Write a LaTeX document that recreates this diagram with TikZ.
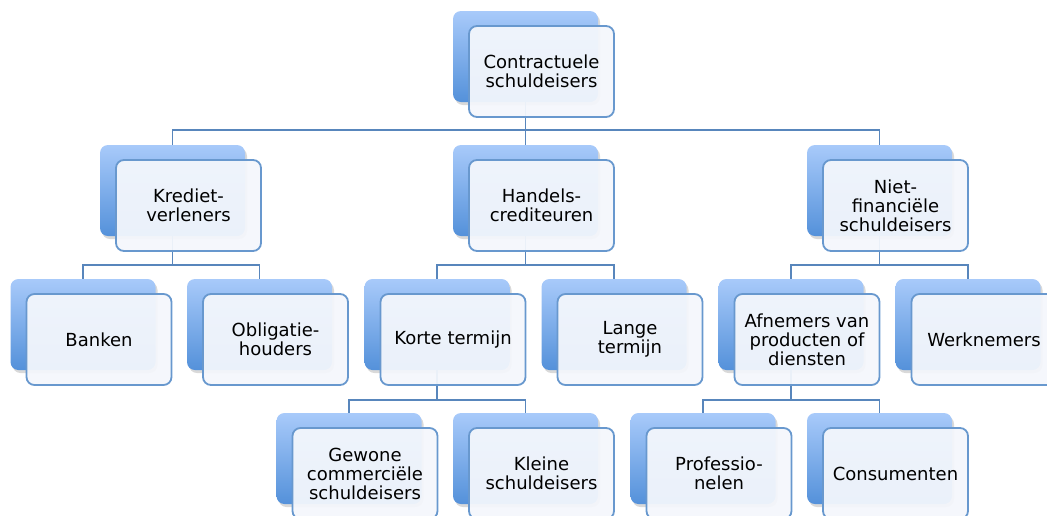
\documentclass[tikz,border=0pt]{standalone}
\usepackage{fontspec}
\setmainfont{DejaVu Sans}
\usetikzlibrary{shadows}

\definecolor{backtop}{RGB}{168,202,250}
\definecolor{backbot}{RGB}{84,145,218}
\definecolor{frontfill}{RGB}{244,247,252}
\definecolor{frontline}{RGB}{104,152,206}
\definecolor{linkline}{RGB}{88,134,188}

\tikzset{
  backbox/.style={rectangle, rounded corners=8pt, minimum width=145pt, minimum height=91pt,
    inner sep=0pt, top color=backtop, bottom color=backbot,
    drop shadow={shadow xshift=2pt, shadow yshift=-3pt, opacity=0.3}},
  frontbox/.style={rectangle, rounded corners=8pt, minimum width=145pt, minimum height=91pt,
    inner sep=0pt, draw=frontline, line width=1.8pt, fill=frontfill, fill opacity=0.94,
    text opacity=1, align=center, font=\fontsize{18}{19}\selectfont},
  link/.style={draw=linkline, line width=1.8pt}
}

\begin{document}
\begin{tikzpicture}[x=1pt,y=-1pt]
\useasboundingbox (0,0) rectangle (1047,515);

% achterste vlakken
\node[backbox] (contrb) at (525.5,56.5) {};
\node[backbox] (kredb) at (172.5,190.5) {};
\node[backbox] (handb) at (525.5,190.5) {};
\node[backbox] (nietb) at (879.5,190.5) {};
\node[backbox] (bankb) at (83,324.5) {};
\node[backbox] (obligb) at (259.5,324.5) {};
\node[backbox] (korteb) at (437,324.5) {};
\node[backbox] (langeb) at (614,324.5) {};
\node[backbox] (afnb) at (791,324.5) {};
\node[backbox] (werkb) at (968,324.5) {};
\node[backbox] (gewb) at (349,458.5) {};
\node[backbox] (kleinb) at (525.5,458.5) {};
\node[backbox] (profb) at (703,458.5) {};
\node[backbox] (consb) at (879.5,458.5) {};

% verbindingen
\draw[link] (contrb.south) -- ++(0,28) -| (kredb.north);
\draw[link] (contrb.south) -- ++(0,28) -| (handb.north);
\draw[link] (contrb.south) -- ++(0,28) -| (nietb.north);
\draw[link] (kredb.south) -- ++(0,29) -| (bankb.north);
\draw[link] (kredb.south) -- ++(0,29) -| (obligb.north);
\draw[link] (handb.south) -- ++(0,29) -| (korteb.north);
\draw[link] (handb.south) -- ++(0,29) -| (langeb.north);
\draw[link] (nietb.south) -- ++(0,29) -| (afnb.north);
\draw[link] (nietb.south) -- ++(0,29) -| (werkb.north);
\draw[link] (korteb.south) -- ++(0,30) -| (gewb.north);
\draw[link] (korteb.south) -- ++(0,30) -| (kleinb.north);
\draw[link] (afnb.south) -- ++(0,30) -| (profb.north);
\draw[link] (afnb.south) -- ++(0,30) -| (consb.north);

% voorste vlakken
\node[frontbox] (contr) at ([shift={(16,15)}]contrb.center) {Contractuele\\schuldeisers};
\node[frontbox] (kred) at ([shift={(16,15)}]kredb.center) {Krediet-\\verleners};
\node[frontbox] (hand) at ([shift={(16,15)}]handb.center) {Handels-\\crediteuren};
\node[frontbox] (niet) at ([shift={(16,15)}]nietb.center) {Niet-\\financiële\\schuldeisers};
\node[frontbox] (bank) at ([shift={(16,15)}]bankb.center) {Banken};
\node[frontbox] (oblig) at ([shift={(16,15)}]obligb.center) {Obligatie-\\houders};
\node[frontbox] (korte) at ([shift={(16,15)}]korteb.center) {Korte termijn};
\node[frontbox] (lange) at ([shift={(16,15)}]langeb.center) {Lange\\termijn};
\node[frontbox] (afn) at ([shift={(16,15)}]afnb.center) {Afnemers van\\producten of\\diensten};
\node[frontbox] (werk) at ([shift={(16,15)}]werkb.center) {Werknemers};
\node[frontbox] (gew) at ([shift={(16,15)}]gewb.center) {Gewone\\commerciële\\schuldeisers};
\node[frontbox] (klein) at ([shift={(16,15)}]kleinb.center) {Kleine\\schuldeisers};
\node[frontbox] (prof) at ([shift={(16,15)}]profb.center) {Professio-\\nelen};
\node[frontbox] (cons) at ([shift={(16,15)}]consb.center) {Consumenten};
\end{tikzpicture}
\end{document}
